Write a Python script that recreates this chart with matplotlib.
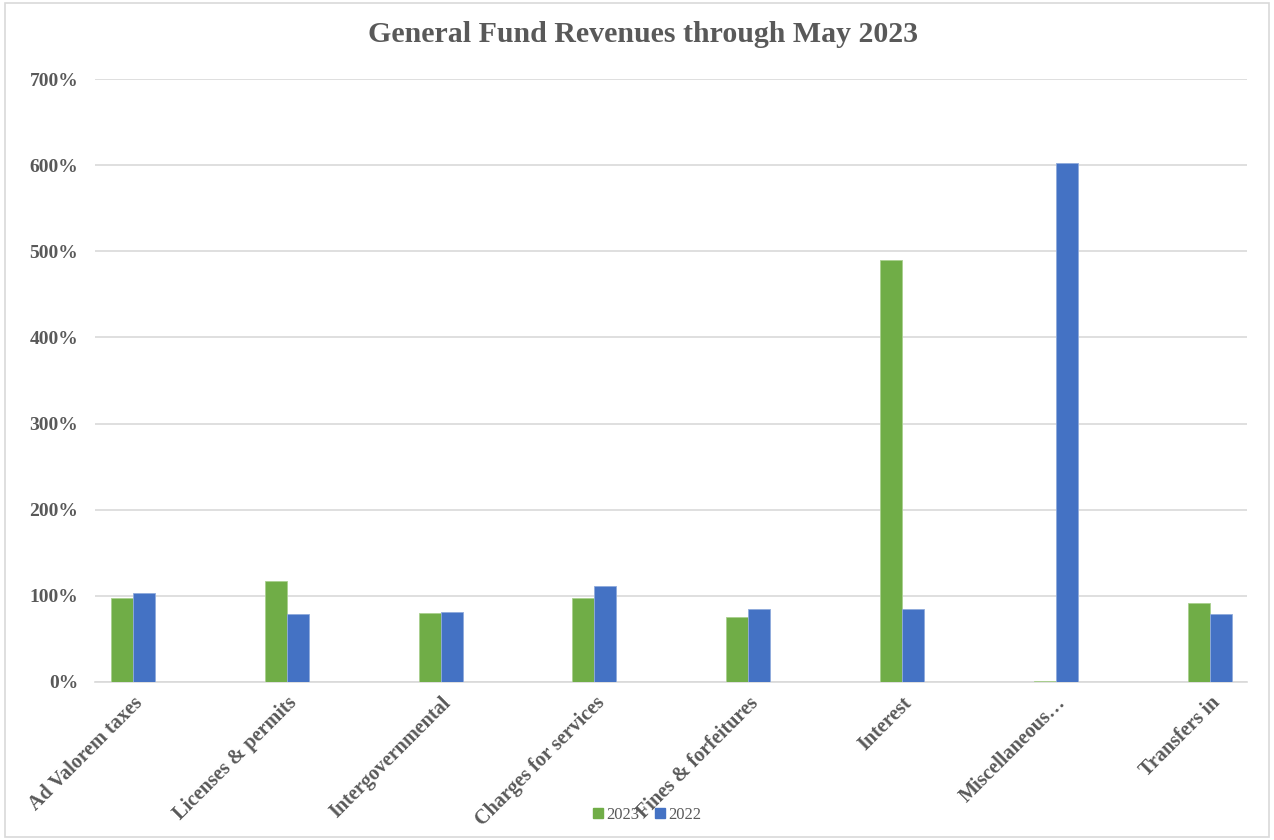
import matplotlib.pyplot as plt
import matplotlib.patches as mpatches
import matplotlib.transforms as mtransforms
import numpy as np

categories = ["Ad Valorem taxes", "Licenses & permits", "Intergovernmental",
              "Charges for services", "Fines & forfeitures", "Interest",
              "Miscellaneous\u2026", "Transfers in"]
pct_2023 = [98, 117, 80, 98, 76, 490, 0.8, 92]
pct_2022 = [103, 79, 81, 112, 85, 85, 602, 79]
yticks = [0, 100, 200, 300, 400, 500, 600, 700]

green = "#70AD47"
blue = "#4472C4"
grey = "#595959"

plt.rcParams['font.family'] = ['Liberation Serif', 'DejaVu Serif']

fig = plt.figure(figsize=(12.74, 8.4), dpi=100)
ax = fig.add_axes([95 / 1274, 1 - 682 / 840, 1152 / 1274, 603 / 840])

x = np.arange(len(categories))
w = 0.143
ax.bar(x - w / 2, pct_2023, w, color=green, edgecolor="#a9d08e", linewidth=0.6, label="2023", zorder=3)
ax.bar(x + w / 2, pct_2022, w, color=blue, edgecolor="#8faadc", linewidth=0.6, label="2022", zorder=3)

ax.set_xlim(-0.247, 7.243)
ax.set_ylim(0, 700)
ax.set_yticks(yticks)
ax.set_yticklabels([f"{v}%" for v in yticks], fontsize=14, fontweight="bold", color=grey)
ax.set_xticks(x)
ax.set_xticklabels(categories, rotation=45, ha="right", va="top", rotation_mode="anchor",
                   fontsize=14.5, fontweight="bold", color=grey)
shift = mtransforms.ScaledTranslation(0.1, 0.0, fig.dpi_scale_trans)
for lab in ax.get_xticklabels():
    lab.set_transform(lab.get_transform() + shift)
ax.tick_params(axis="x", length=0, pad=8)
ax.tick_params(axis="y", length=0, pad=12)
ax.grid(axis="y", color="#d9d9d9", linewidth=1.2, zorder=0)
for s in ["top", "right", "left"]:
    ax.spines[s].set_visible(False)
ax.spines["bottom"].set_color("#d9d9d9")
ax.spines["bottom"].set_linewidth(1.2)

fig.text(0.505, 1 - 35 / 840, "General Fund Revenues through May 2023", ha="center", va="center",
         fontsize=21.5, fontweight="bold", color=grey)

handles = [mpatches.Patch(color=green, label="2023"), mpatches.Patch(color=blue, label="2022")]
fig.legend(handles=handles, loc="center", bbox_to_anchor=(647 / 1274, 1 - 815 / 840), ncol=2,
           frameon=False, fontsize=12, labelcolor=grey, handlelength=0.6, handleheight=0.6,
           handletextpad=0.2, columnspacing=0.9)

fig.patches.append(mpatches.Rectangle((0.004, 0.004), 0.992, 0.992, transform=fig.transFigure,
                                      fill=False, edgecolor="#d9d9d9", linewidth=1.2))

fig.savefig("out.png", dpi=100)
